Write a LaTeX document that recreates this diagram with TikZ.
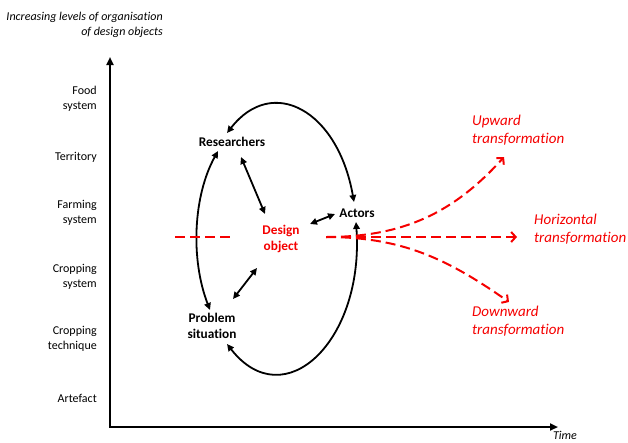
\documentclass[tikz,border=0pt]{standalone}
\usepackage{fontspec}
\setmainfont{Carlito}[Ligatures=NoCommon]
\usetikzlibrary{arrows.meta}
\definecolor{tred}{RGB}{245,0,0}
\begin{document}
\begin{tikzpicture}[x=1pt,y=1pt,
 lvl/.style={anchor=east,align=right,font=\fontsize{12}{14.5}\selectfont,inner sep=0pt},
 actor/.style={font=\bfseries\fontsize{13.3}{16}\selectfont,align=center,inner sep=0pt},
 redlbl/.style={anchor=west,align=left,text=tred,font=\itshape\fontsize{15}{18}\selectfont,inner sep=0pt},
 loop/.style={line width=1.8pt,{Triangle[length=7pt,width=6.5pt]}-{Triangle[length=7pt,width=6.5pt]}},
 axis/.style={line width=2.2pt,{Triangle[length=8pt,width=7pt]}-{Triangle[length=8pt,width=7pt]}},
 rdash/.style={tred,line width=2pt,dash pattern=on 10pt off 5pt},
 rtip/.style={-{Straight Barb[length=4.5pt,width=10pt]}}
]
\useasboundingbox (0,0) rectangle (628,-442);

% title and axis labels
\node[anchor=east,align=right,font=\itshape\fontsize{12}{15}\selectfont,inner sep=0pt] (title) at (163,-25) {Increasing levels of organisation\\of design objects};
\node[font=\itshape\fontsize{12}{14}\selectfont,inner sep=0pt] (time) at (565,-435) {Time};

% axes
\coordinate (Ytip) at (110,-57);
\coordinate (O) at (110,-427);
\coordinate (Xtip) at (558,-427);
\draw[axis] (Ytip) -- (O) -- (Xtip);

% levels
\node[lvl] (l1) at (97,-99) {Food\\system};
\node[lvl] (l2) at (97,-157) {Territory};
\node[lvl] (l3) at (97,-213) {Farming\\system};
\node[lvl] (l4) at (97,-277) {Cropping\\system};
\node[lvl] (l5) at (97,-339) {Cropping\\technique};
\node[lvl] (l6) at (97,-398) {Artefact};

% main nodes
\node[actor] (res) at (232,-142) {Researchers};
\node[actor] (act) at (357,-213) {Actors};
\node[actor,text=tred] (dob) at (281,-239) {Design\\object};
\node[actor] (prob) at (212,-326) {Problem\\situation};

% red labels
\node[redlbl] (up) at (472,-130) {Upward\\transformation};
\node[redlbl] (hor) at (534,-229) {Horizontal\\transformation};
\node[redlbl] (down) at (472,-321) {Downward\\transformation};

% loop arcs
\draw[loop] ([shift={(-3,11)}]act.center) to[out=100,in=52,out distance=93pt,in distance=74pt] ([shift={(-5,9)}]res.center);
\draw[loop] ([shift={(-14,-9)}]res.center) to[out=241,in=111,out distance=51pt,in distance=55pt] ([shift={(-2,16)}]prob.center);
\draw[loop] ([shift={(15,-18)}]prob.center) to[out=308,in=274,out distance=93pt,in distance=119pt] ([shift={(-1,-9)}]act.center);

% short arrows
\draw[loop] ([shift={(9,-15)}]res.center) -- ([shift={(-16,25)}]dob.center);
\draw[loop] ([shift={(29,15)}]dob.center) -- ([shift={(-22,-1)}]act.center);
\draw[loop] ([shift={(-24,-29)}]dob.center) -- ([shift={(21,27)}]prob.center);

% red transformation lines
\coordinate (L1) at (175,-237);
\coordinate (L2) at (231,-237);
\coordinate (S) at (326,-237);
\coordinate (H) at (517,-237);
\coordinate (U) at (504,-157);
\coordinate (D) at (509,-302);
\draw[rdash] (L1) -- (L2);
\draw[rdash,rtip] (S) -- (H);
\draw[rdash,rtip] (S) to[out=0,in=228] (U);
\draw[rdash,rtip] (S) to[out=0,in=145] (D);
\end{tikzpicture}
\end{document}
